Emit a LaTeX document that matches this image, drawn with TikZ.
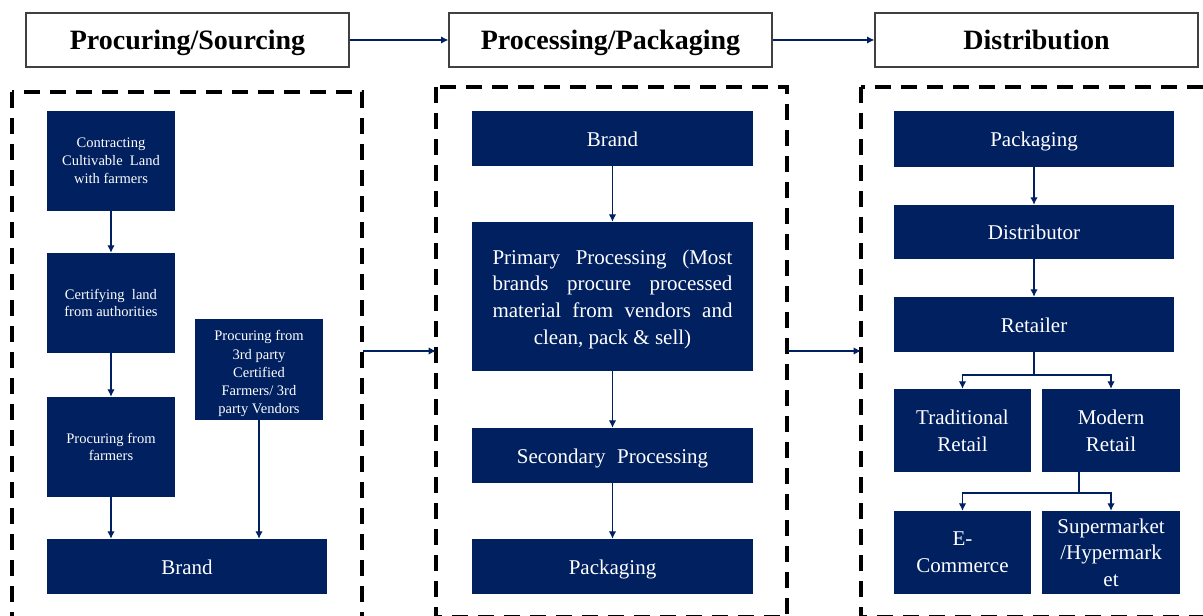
\documentclass[tikz,border=0pt]{standalone}
\usepackage{fontspec}
\setmainfont{Liberation Serif}
\usetikzlibrary{arrows.meta}
\definecolor{navy}{HTML}{002060}
\definecolor{stageedge}{HTML}{404040}
\begin{document}
\begin{tikzpicture}[x=0.75pt,y=-0.75pt,
  dims/.style 2 args={minimum width=#1*0.75pt, minimum height=#2*0.75pt},
  stage/.style={draw=stageedge, line width=1pt, fill=white, inner sep=0pt,
    dims={323}{54}, text height=16pt, text depth=1pt,
    font=\bfseries\fontsize{21}{25}\selectfont},
  blk/.style={fill=navy, text=white, inner sep=0pt, align=center,
    font=\fontsize{15.75}{20}\selectfont},
  oneline/.style={blk, text height=11.5pt, text depth=0pt},
  smallblk/.style={blk, font=\fontsize{10.9}{13.4}\selectfont},
  groupframe/.style={draw=black, line width=3pt, dash pattern=on 12pt off 7.5pt},
  wire/.style={draw=navy, line width=0.8pt},
  arr/.style={wire, -{Latex[length=5.5pt,width=5.5pt]}},
]
\useasboundingbox (0,0) rectangle (1203,616);
\clip (0,0) rectangle (1203,616);

% stage headers
\node[stage] (h1) at (187.5,40) {Procuring/Sourcing};
\node[stage] (h2) at (610.5,40) {Processing/Packaging};
\node[stage] (h3) at (1036.5,40) {Distribution};
\draw[arr] (h1) -- (h2);
\draw[arr] (h2) -- (h3);

% dashed group frames
\draw[groupframe] (12,92) rectangle (362,640);
\draw[groupframe] (436,87) rectangle (787,617);
\draw[groupframe] (861,87) rectangle (1230,617);
\coordinate (gLout) at (363,351);
\coordinate (gMin) at (436,351);
\coordinate (gMout) at (788,351);
\coordinate (gRin) at (861,351);
\draw[arr] (gLout) -- (gMin);
\draw[arr] (gMout) -- (gRin);

% procuring / sourcing
\node[smallblk, dims={128}{100}] (a1) at (111,161) {Contracting\\Cultivable\ \ Land\\with farmers};
\node[smallblk, dims={128}{100}] (a2) at (111,303) {Certifying\ \ land\\from authorities};
\node[smallblk, dims={128}{100}] (a3) at (111,447) {Procuring from\\farmers};
\node[smallblk, dims={128}{101}, font=\fontsize{10.9}{13.6}\selectfont] (a4) at (259,369.5)
  {\rule{0pt}{14pt}Procuring from\\3rd party\\Certified\\Farmers/ 3rd\\party Vendors};
\node[oneline, dims={280}{55}] (a5) at (187,566.5) {Brand};
\draw[arr] (a1) -- (a2);
\draw[arr] (a2) -- (a3);
\draw[arr] (a3.south) -- (a3.south |- a5.north);
\draw[arr] (a4.south) -- (a4.south |- a5.north);

% processing / packaging
\node[blk, dims={281}{149}, text width=180pt, align=justify] (b2) at (612.5,296.5)
  {\leftskip=0pt plus 1fil\rightskip=0pt plus -1fil\parfillskip=0pt plus 2fil
   \rule{0pt}{15pt}Primary Processing (Most brands procure processed material from vendors and clean, pack \& sell)\par};
\node[oneline, dims={281}{55}] (b1) at (612.5,138.5) {Brand};
\node[oneline, dims={281}{55}] (b3) at (612.5,455.5) {Secondary\hspace{0.55em}Processing};
\node[oneline, dims={281}{55}] (b4) at (612.5,566.5) {Packaging};
\draw[arr] (b1) -- (b2);
\draw[arr] (b2) -- (b3);
\draw[arr] (b3) -- (b4);

% distribution
\node[oneline, dims={280}{56}] (c1) at (1034,139) {Packaging};
\node[oneline, dims={280}{54}] (c2) at (1034,232) {Distributor};
\node[oneline, dims={280}{55}] (c3) at (1034,324.5) {Retailer};
\node[blk, dims={137}{83}] (c4) at (962.5,430.5) {Traditional\\Retail};
\node[blk, dims={138}{83}] (c5) at (1111,430.5) {Modern\\Retail};
\node[blk, dims={137}{83}] (c6) at (962.5,552.5) {E-\\Commerce};
\node[blk, dims={138}{83}] (c7) at (1111,552.5) {Supermarket\\/Hypermark\\et};
\draw[arr] (c1) -- (c2);
\draw[arr] (c2) -- (c3);
\coordinate (rsplit) at (1034,375);
\draw[wire] (c3.south) -- (rsplit);
\draw[arr] (rsplit) -| (c4.north);
\draw[arr] (rsplit) -| (c5.north);
\coordinate (mfoot) at (1079,472);
\coordinate (msplit) at (1079,493);
\draw[wire] (mfoot) -- (msplit);
\draw[arr] (msplit) -| (c6.north);
\draw[arr] (msplit) -| (c7.north);
\end{tikzpicture}
\end{document}
